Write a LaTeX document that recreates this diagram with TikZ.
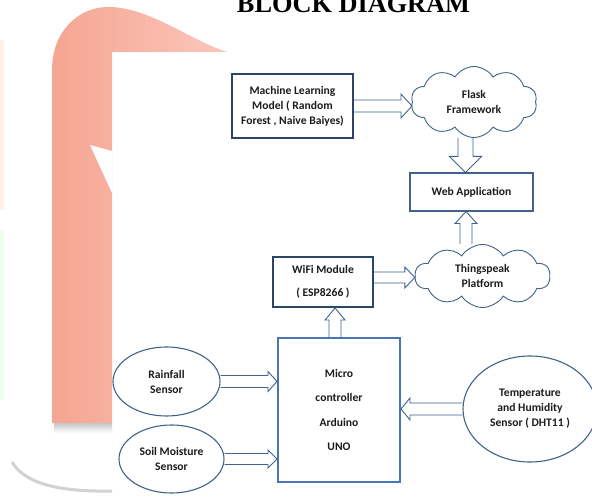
\documentclass[tikz,border=0pt]{standalone}
\usepackage{fontspec}
\setmainfont{Carlito}
\newfontfamily\titlefont{Liberation Serif}
\usetikzlibrary{shapes.geometric,shapes.symbols,calc}
\definecolor{wmL}{RGB}{245,165,145}
\definecolor{wmR}{RGB}{251,198,188}
\definecolor{navy}{RGB}{44,68,104}
\definecolor{edge}{RGB}{66,98,140}
\definecolor{mblue}{RGB}{70,118,180}
\definecolor{txt}{RGB}{28,28,28}
% #1 from, #2 tip, #3 shaft half width, #4 head half width, #5 head length
\newcommand\hblk[5]{%
  \draw[blockarrow] ($(#1)+(0,#3)$) -- ($(#2)!#5pt!(#1)+(0,#3)$) -- ($(#2)!#5pt!(#1)+(0,#4)$) -- (#2)
    -- ($(#2)!#5pt!(#1)+(0,-#4)$) -- ($(#2)!#5pt!(#1)+(0,-#3)$) -- ($(#1)+(0,-#3)$);}
\newcommand\vblk[5]{%
  \draw[blockarrow] ($(#1)+(#3,0)$) -- ($(#2)!#5pt!(#1)+(#3,0)$) -- ($(#2)!#5pt!(#1)+(#4,0)$) -- (#2)
    -- ($(#2)!#5pt!(#1)+(-#4,0)$) -- ($(#2)!#5pt!(#1)+(-#3,0)$) -- ($(#1)+(-#3,0)$);}
\begin{document}
\begin{tikzpicture}[x=1pt,y=-1pt,
  font=\fontsize{11.6}{15}\selectfont\bfseries, text=txt,
  boxthick/.style={rectangle,draw=navy,line width=2pt,inner sep=0pt,align=center},
  boxthin/.style={rectangle,draw=edge,line width=1.1pt,inner sep=0pt,align=center},
  boxmicro/.style={rectangle,draw=mblue,line width=2pt,inner sep=0pt,align=center},
  cloudbox/.style={cloud,cloud ignores aspect,cloud puffs=10,cloud puff arc=115,draw=edge,line width=0.9pt,inner sep=0pt,align=center},
  sensor/.style={ellipse,draw=edge,line width=1.1pt,inner sep=0pt,align=center},
  blockarrow/.style={draw=edge,line width=0.9pt,line join=miter}]
\useasboundingbox (0,0) rectangle (592,497);
\fill[white] (0,0) rectangle (592,497);
% watermark
\fill[orange!10] (0,40) rectangle (4,210);
\fill[green!7] (0,230) rectangle (4,400);
\shade[left color=wmL,right color=wmR] (52,423) -- (52,70) .. controls (52,30) and (80,6) .. (110,7)
  .. controls (150,8) and (190,40) .. (227,52) -- (112,52) -- (112,423) -- cycle;
\fill[white] (90,145) -- (112,151) -- (112,193) -- cycle;
\shade[top color=gray!45,bottom color=white] (54,423) rectangle (112,433);
\draw[gray!35,line width=3pt] (12,462) .. controls (25,484) and (60,492) .. (112,491);
% title
\node[font=\titlefont\fontsize{26.3}{30}\selectfont\bfseries,text=black,anchor=base] (title) at (353.5,13) {BLOCK DIAGRAM};
% nodes
\node[boxthick,minimum width=121,minimum height=64] (ml) at (292.5,106)
  {Machine Learning\\Model ( Random\\Forest , Naive Baiyes)};
\node[cloudbox,minimum width=126,minimum height=71] (flask) at (474,102) {Flask\\Framework};
\node[boxthin,minimum width=123,minimum height=38] (web) at (471.5,192) {Web Application};
\node[cloudbox,minimum width=135,minimum height=63] (ts) at (482.5,276) {Thingspeak\\Platform};
\node[boxthick,minimum width=100,minimum height=50] (wifi) at (323,282) {WiFi Module\\[8pt]( ESP8266 )};
\node[boxmicro,minimum width=122,minimum height=144] (micro) at (339,410)
  {Micro\\[9.5pt]controller\\[9.5pt]Arduino\\[9.5pt]UNO};
\node[sensor,minimum width=107,minimum height=69] (rain) at (166.5,381.5) {Rainfall\\Sensor};
\node[sensor,minimum width=105,minimum height=68] (soil) at (171.5,459) {Soil Moisture\\Sensor};
\node[sensor,minimum width=134,minimum height=106] (temp) at (530,409)
  {Temperature\\and Humidity\\Sensor ( DHT11 )};
% arrow end points
\coordinate (a1) at (ml.east -| flask.west);
\coordinate (fw) at ($(web.north)+(-6,0)$);
\coordinate (fwS) at (fw |- flask.south);
\coordinate (tw) at ($(web.south)+(-5.5,0)$);
\coordinate (twS) at (tw |- ts.north);
\coordinate (wS) at ([yshift=4.5pt]wifi.east);
\coordinate (wT) at (wS -| ts.west);
\coordinate (mw) at ($(wifi.south)+(12,0)$);
\coordinate (mwS) at (mw |- micro.north);
\coordinate (rT) at (rain.east -| micro.west);
\coordinate (sT) at (soil.east -| micro.west);
\coordinate (tT) at (temp.west -| micro.east);
% block arrows
\hblk{ml.east}{a1}{6}{12}{11}
\vblk{fwS}{fw}{7.5}{16}{16}
\vblk{twS}{tw}{6}{11}{12}
\hblk{wS}{wT}{5.5}{10.5}{10}
\vblk{mwS}{mw}{6}{10}{12}
\hblk{rain.east}{rT}{6}{10}{9}
\hblk{soil.east}{sT}{5.5}{9}{9}
\hblk{temp.west}{tT}{6}{11}{9}
\end{tikzpicture}
\end{document}
